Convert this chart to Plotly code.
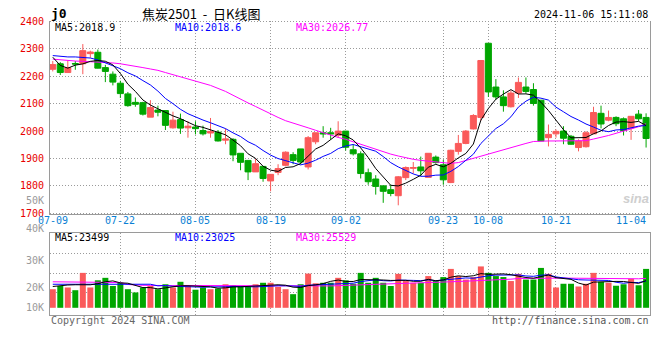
import plotly.graph_objects as go

# ---------------- data ----------------
dates = [
    "07-09", "07-10", "07-11", "07-12", "07-15", "07-16", "07-17", "07-18", "07-19",
    "07-22", "07-23", "07-24", "07-25", "07-26", "07-29", "07-30", "07-31",
    "08-01", "08-02", "08-05", "08-06", "08-07", "08-08", "08-09", "08-12", "08-13",
    "08-14", "08-15", "08-16", "08-19", "08-20", "08-21", "08-22", "08-23", "08-26",
    "08-27", "08-28", "08-29", "08-30",
    "09-02", "09-03", "09-04", "09-05", "09-06", "09-09", "09-10", "09-11", "09-12",
    "09-13", "09-18", "09-19", "09-20", "09-23", "09-24", "09-25", "09-26", "09-27", "09-30",
    "10-08", "10-09", "10-10", "10-11", "10-14", "10-15", "10-16", "10-17", "10-18",
    "10-21", "10-22", "10-23", "10-24", "10-25", "10-28", "10-29", "10-30", "10-31",
    "11-01", "11-04", "11-05", "11-06",
]

opens = [2226, 2246, 2214, 2247, 2246, 2283, 2288, 2232, 2208, 2175,
         2136, 2105, 2104, 2051, 2077, 2075, 2012, 2042, 2012, 2015,
         2002, 1993, 1996, 1967, 1970, 1919, 1893, 1851, 1871, 1818,
         1849, 1875, 1914, 1935, 1869, 1961, 1994, 1994, 1985, 2000,
         1932, 1917, 1848, 1825, 1800, 1786, 1764, 1830, 1864, 1869,
         1831, 1905, 1877, 1812, 1926, 1955, 2008, 2050, 2321, 2161,
         2125, 2089, 2139, 2161, 2152, 2113, 1976, 1990, 2000, 1981,
         1940, 1943, 1990, 2065, 2040, 2050, 2045, 2012, 2062, 2050]
highs = [2256, 2252, 2258, 2256, 2318, 2294, 2298, 2242, 2218, 2184,
         2143, 2123, 2107, 2113, 2093, 2075, 2071, 2064, 2036, 2036,
         2020, 2048, 2004, 2009, 1974, 1919, 1893, 1899, 1871, 1842,
         1879, 1926, 1923, 1935, 1982, 1994, 2018, 2012, 2036, 2000,
         1952, 1926, 1863, 1839, 1800, 1804, 1836, 1871, 1887, 1907,
         1919, 1911, 1895, 1932, 1986, 2004, 2062, 2258, 2321, 2190,
         2149, 2149, 2196, 2196, 2175, 2113, 2024, 2006, 2018, 1986,
         1970, 2000, 2089, 2093, 2075, 2054, 2050, 2054, 2077, 2065]
lows = [2218, 2205, 2214, 2224, 2208, 2268, 2229, 2179, 2167, 2121,
        2089, 2089, 2057, 2051, 2054, 2004, 2009, 1990, 1976, 1988,
        1984, 1976, 1962, 1952, 1890, 1857, 1821, 1851, 1815, 1780,
        1839, 1871, 1879, 1879, 1860, 1952, 1976, 1970, 1976, 1929,
        1911, 1827, 1804, 1768, 1738, 1762, 1729, 1821, 1845, 1836,
        1831, 1881, 1804, 1810, 1914, 1952, 2006, 2038, 2125, 2115,
        2071, 2086, 2121, 2137, 2093, 1964, 1944, 1976, 1952, 1950,
        1926, 1940, 1990, 2010, 2036, 2018, 1984, 1968, 2036, 1940]
closes = [2243, 2214, 2232, 2245, 2294, 2289, 2230, 2218, 2179, 2137,
          2093, 2098, 2062, 2086, 2069, 2021, 2040, 2011, 2018, 2009,
          1990, 1999, 1964, 1971, 1913, 1886, 1851, 1881, 1827, 1842,
          1863, 1923, 1893, 1887, 1976, 1994, 1990, 1990, 2000, 1941,
          1917, 1845, 1815, 1798, 1780, 1772, 1833, 1867, 1867, 1855,
          1919, 1885, 1822, 1930, 1955, 2000, 2057, 2258, 2143, 2125,
          2093, 2139, 2178, 2145, 2101, 1964, 1988, 1999, 1974, 1952,
          1964, 1994, 2068, 2026, 2050, 2027, 2002, 2054, 2045, 1973]

volumes = [17500, 18800, 18200, 17100, 24100, 18200, 21100, 22100, 18800, 20100,
           17500, 16200, 18200, 18800, 17500, 19500, 18200, 20500, 18800, 17300,
           18200, 17500, 17800, 19500, 19100, 18400, 18400, 19500, 20100, 20100,
           18400, 17500, 15500, 19500, 23800, 19900, 20100, 20100, 22100, 21100,
           19700, 24100, 20100, 22100, 20100, 18800, 23700, 20800, 20100, 20100,
           22800, 20800, 22400, 25700, 22800, 21400, 22400, 26700, 24100, 22800,
           22400, 20800, 23700, 21400, 21400, 26100, 23700, 18200, 19700, 19700,
           18600, 19700, 24100, 20500, 20100, 18900, 19500, 21700, 19100, 25700]

# moving-average values for days whose window starts before the first shown day
ma5_head = [2270, 2240, 2230, 2241]
ma10_head = [2276, 2273, 2271, 2271, 2270, 2267, 2260, 2250, 2240]
ma30 = [2263, 2260, 2257, 2256, 2255, 2254, 2253, 2252, 2249, 2246,
        2242, 2237, 2232, 2227, 2222, 2214, 2206, 2197, 2189, 2181,
        2174, 2167, 2156, 2145, 2131, 2116, 2103, 2090, 2076, 2063,
        2050, 2038, 2030, 2021, 2012, 2003, 1994, 1985, 1977, 1970,
        1961, 1951, 1942, 1933, 1923, 1916, 1909, 1902, 1897, 1893,
        1890, 1887, 1884, 1882, 1885, 1893, 1900, 1908, 1916, 1924,
        1932, 1940, 1948, 1955, 1962, 1964, 1964, 1964, 1964, 1964,
        1964, 1965, 1971, 1977, 1984, 1992, 2000, 2008, 2016, 2027]
vma_head5 = [18600, 19000, 19200, 19300]
vma_head10 = [19500, 19500, 19400, 19300, 19400, 19400, 19500, 19600, 19600]
vma_head30 = [20500, 20500, 20400, 20300, 20300, 20300, 20300, 20300, 20200, 20200]

price_ticks = [1700, 1800, 1900, 2000, 2100, 2200, 2300, 2400]
grid_dates = ["07-22", "08-05", "08-19", "09-02", "09-23", "10-08", "10-21"]
label_dates = ["07-09", "07-22", "08-05", "08-19", "09-02", "09-23", "10-08", "10-21", "11-04"]
vol_axis_labels = ["50K", "40K", "30K", "20K", "10K"]
vol_grid = [16000, 24000, 32000]
VOL_BASE = 10000

title_text = "焦炭2501 - 日K线图"
code_text = "j0"
time_text = "2024-11-06 15:11:08"
price_legend = ["MA5:2018.9", "MA10:2018.6", "MA30:2026.77"]
vol_legend = ["MA5:23499", "MA10:23025", "MA30:25529"]

# ---------------- derived series ----------------
def moving_average(values, n, head):
    out = list(head)
    for i in range(len(head), len(values)):
        w = values[max(0, i - n + 1):i + 1]
        out.append(sum(w) / len(w))
    return out


ma5 = moving_average(closes, 5, ma5_head)
ma10 = moving_average(closes, 10, ma10_head)
vma5 = moving_average(volumes, 5, vma_head5)
vma10 = moving_average(volumes, 10, vma_head10)
vma30 = moving_average(volumes, 30, vma_head30)

# ---------------- styles ----------------
RED = "#fa5a5a"
GREEN = "#00a600"
GRID = "#9a9a9a"
BORDER = "#9a9a9a"
MONO = "DejaVu Sans Mono"
W, H = 660, 360


def px(x):
    return x / W


def py(y):
    return 1 - y / H


bar_colors = [RED if c >= o else GREEN for o, c in zip(opens, closes)]

fig = go.Figure()
fig.add_trace(go.Candlestick(
    x=dates, open=opens, high=highs, low=lows, close=closes,
    increasing=dict(line=dict(color=RED, width=1), fillcolor=RED),
    decreasing=dict(line=dict(color=GREEN, width=1), fillcolor=GREEN),
    whiskerwidth=0, hoverinfo="skip", xaxis="x", yaxis="y"))
for vals, col in [(ma30, "#ff00ff"), (ma10, "#0000ff"), (ma5, "#000000")]:
    fig.add_trace(go.Scatter(x=dates, y=vals, mode="lines",
                             line=dict(color=col, width=1),
                             hoverinfo="skip", xaxis="x", yaxis="y"))

fig.add_trace(go.Bar(x=dates, y=[v - VOL_BASE for v in volumes], base=VOL_BASE,
                     marker=dict(color=bar_colors, line=dict(width=0)),
                     hoverinfo="skip", xaxis="x2", yaxis="y2"))
for vals, col in [(vma30, "#ff00ff"), (vma10, "#0000ff"), (vma5, "#000000")]:
    fig.add_trace(go.Scatter(x=dates, y=vals, mode="lines",
                             line=dict(color=col, width=1),
                             hoverinfo="skip", xaxis="x2", yaxis="y2"))

common_x = dict(type="category", categoryorder="array", categoryarray=dates,
                range=[-0.37, 79.52], tickmode="array", tickvals=grid_dates,
                showticklabels=False, ticks="", showgrid=True, gridcolor=GRID,
                griddash="1px,2px", gridwidth=1, zeroline=False,
                showline=True, linecolor=BORDER, linewidth=1, fixedrange=True,
                domain=[px(50), px(650)])

fig.update_layout(
    width=W, height=H, margin=dict(l=0, r=0, t=0, b=0),
    paper_bgcolor="white", plot_bgcolor="white", showlegend=False,
    boxgap=0.2, boxgroupgap=0, bargap=0.2,
    xaxis=dict(common_x, anchor="y", mirror=False, rangeslider=dict(visible=False)),
    yaxis=dict(domain=[py(215.1), py(16.9)], range=[1696, 2404], anchor="x",
               tickmode="array", tickvals=price_ticks,
               ticktext=[str(t) for t in price_ticks],
               tickfont=dict(family=MONO, size=10, color="#e80000"),
               ticks="", ticklabelstandoff=3,
               showgrid=True, gridcolor=GRID, griddash="1px,2px", gridwidth=1,
               showline=True, linecolor=BORDER, linewidth=1, mirror=True,
               zeroline=False, fixedrange=True),
    xaxis2=dict(common_x, anchor="y2", matches="x", mirror=True),
    yaxis2=dict(domain=[py(318), py(234.7)], range=[7118, 40000], anchor="x2",
                tickmode="array", tickvals=vol_grid, showticklabels=False, ticks="",
                showgrid=True, gridcolor=GRID, griddash="1px,2px", gridwidth=1,
                showline=True, linecolor=BORDER, linewidth=1, mirror=True,
                zeroline=False, fixedrange=True),
)

ann = []


def text(t, x, y, color="#000", size=10, anchor="left", family=MONO, xref="paper"):
    ann.append(dict(text=t, x=x, y=y, xref=xref, yref="paper", showarrow=False,
                    xanchor=anchor, yanchor="middle",
                    font=dict(family=family, size=size, color=color)))


text("<b>" + code_text + "</b>", px(49), py(9.5), size=13)
text(title_text.replace(" ", "\u00a0\u00a0"), px(201), py(10), size=13, anchor="center",
     family="Noto Sans CJK SC")
text(time_text, px(650), py(11), size=10, anchor="right")

legend_cols = ["#000000", "#0000ff", "#ff00ff"]
legend_x = [53, 173, 294]
for t, c, x in zip(price_legend, legend_cols, legend_x):
    text(t, px(x), py(24.5), color=c)
for t, c, x in zip(vol_legend, legend_cols, legend_x):
    text(t, px(x), py(238.5), color=c)

for d in label_dates:
    text(d, d, py(221.5), color="#0a7fd4", anchor="center", xref="x")

vol_label_y = [200.5, 230, 262, 290, 310]
for t, y in zip(vol_axis_labels, vol_label_y):
    text(t, px(46), py(y), color="#9a9a9a", anchor="right")

text("Copyright 2024 SINA.COM", px(49), py(323.5), color="#666666")
text("http://finance.sina.com.cn", px(651), py(323.5), color="#555555", anchor="right")
text("<b><i>sina</i></b>", px(636), py(199), color="#cfcfcf", size=13,
     anchor="center", family="Liberation Sans")

fig.update_layout(annotations=ann)
fig.write_html("out.html", config={"displayModeBar": False},
               post_script="document.body.style.margin='0';document.body.style.overflow='hidden';")
